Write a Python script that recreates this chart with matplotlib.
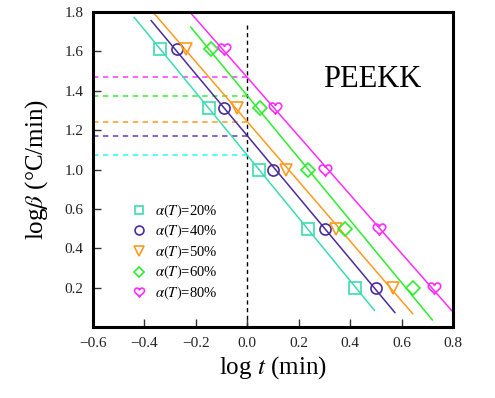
import numpy as np
import matplotlib
matplotlib.use("Agg")
import matplotlib.pyplot as plt
from matplotlib.path import Path

plt.rcParams["font.family"] = ["Liberation Serif", "DejaVu Serif"]
plt.rcParams["mathtext.fontset"] = "stix"

# log of heating rate (y) for each conversion level
log_beta = [1.61, 1.31, 1.00, 0.70, 0.40]

# log t (x), one list per conversion
logt_20 = [-0.340, -0.148, 0.047, 0.236, 0.420]
logt_40 = [-0.274, -0.091, 0.101, 0.301, 0.499]
logt_50 = [-0.238, -0.039, 0.151, 0.347, 0.568]
logt_60 = [-0.140, 0.051, 0.235, 0.382, 0.645]
logt_80 = [-0.090, 0.106, 0.304, 0.512, 0.725]

labels = ["20%", "40%", "50%", "60%", "80%"]
series = [logt_20, logt_40, logt_50, logt_60, logt_80]

# heart-shaped outline marker
tt = np.linspace(0, 2 * np.pi, 80)
hx = 16 * np.sin(tt) ** 3
hy = 13 * np.cos(tt) - 5 * np.cos(2 * tt) - 2 * np.cos(3 * tt) - np.cos(4 * tt)
heart = Path(np.column_stack([hx, hy + 2]) / 17.0)

markers = ["s", "o", "v", "D", heart]
sizes = [8, 8, 9, 7, 9]
colors = ["#3cdcb0", "#4a2c9c", "#ff9a1e", "#2cee2c", "#ff2cff"]
dash_colors = ["#4dfaf5", "#7a5ac0", "#ffa840", "#55f055", "#ff55ff"]
starts = [0.1, 0.1, 0.13, 0.08, 0.13]

ytick_pos = [0.4, 0.6, 0.8, 1.0, 1.2, 1.4, 1.6, 1.8]
ytick_lab = ["0.2", "0.4", "0.6", "1.0", "1.2", "1.4", "1.6", "1.8"]

fig = plt.figure(figsize=(4.95, 3.98), dpi=100)
ax = fig.add_axes([0.188, 0.178, 0.727, 0.792])

for xs, lab, m, ms, c, dc, st in zip(series, labels, markers, sizes, colors,
                                     dash_colors, starts):
    xs = np.array(xs)
    k, b = np.polyfit(xs, log_beta, 1)
    xl = np.array([xs[0] - st, xs[-1] + 0.075])
    ax.plot(xl, k * xl + b, color=c, lw=1.1, zorder=2)
    ax.plot([-0.6, 0.0], [b, b], color=dc, lw=1.3, ls=(0, (3, 2.5)), zorder=1)
    ax.plot(xs, log_beta, ls="none", marker=m, ms=ms, mfc="none", mec=c, mew=1.2,
            label=r"$\alpha(T)$=" + lab, zorder=3)

ax.axvline(0.0, ymax=0.96, color="black", lw=1.0, ls=(0, (3, 2.5)), zorder=1)

ax.set_xlim(-0.6, 0.8)
ax.set_ylim(0.2, 1.8)
ax.set_xticks(np.arange(-0.6, 0.81, 0.2))
ax.set_xticklabels(["\u22120.6", "\u22120.4", "\u22120.2", "0.0", "0.2", "0.4", "0.6", "0.8"])
ax.set_yticks(ytick_pos)
ax.set_yticklabels(ytick_lab)
ax.tick_params(direction="in", length=6, width=1.0, labelsize=11, colors="#333333",
               labelcolor="#222222", pad=7)
for s in ax.spines.values():
    s.set_linewidth(2.2)

ax.set_xlabel(r"log $t$ (min)", fontsize=18, labelpad=3)
ax.set_ylabel(r"log$\beta$ (°C/min)", fontsize=18, labelpad=10)

ax.text(0.775, 0.785, "PEEKK", transform=ax.transAxes, fontsize=22,
        ha="center", va="center")

ax.legend(loc="upper left", bbox_to_anchor=(0.09, 0.415), frameon=False,
          fontsize=10.5, markerscale=0.8, handlelength=1.0, handletextpad=0.6,
          labelspacing=0.22, borderaxespad=0)

fig.savefig("out.png", dpi=100)
